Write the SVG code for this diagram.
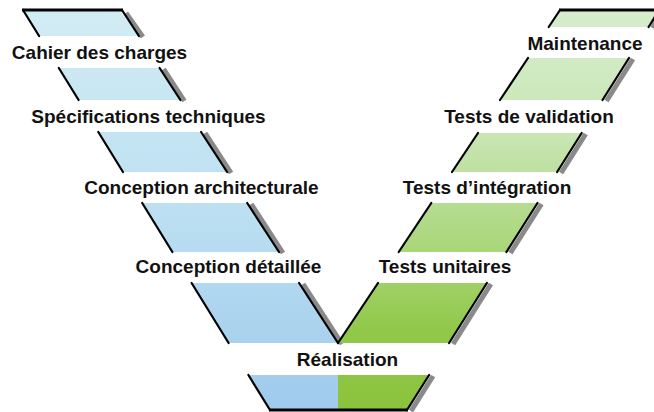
<svg xmlns="http://www.w3.org/2000/svg" width="654" height="412" viewBox="0 0 654 412">
<defs>
<linearGradient id="gBlue" gradientUnits="userSpaceOnUse" x1="0" y1="10" x2="0" y2="410">
<stop offset="0" stop-color="#d2ecf3"/>
<stop offset="0.5" stop-color="#bce0f2"/>
<stop offset="1" stop-color="#9fcaec"/>
</linearGradient>
<linearGradient id="gGreen" gradientUnits="userSpaceOnUse" x1="0" y1="10" x2="0" y2="410">
<stop offset="0" stop-color="#d6edcd"/>
<stop offset="0.3" stop-color="#cae6b6"/>
<stop offset="0.6" stop-color="#a9d67a"/>
<stop offset="0.8" stop-color="#91c84a"/>
<stop offset="1" stop-color="#8bc33d"/>
</linearGradient>
</defs>
<style>
.blue{fill:url(#gBlue)}
.green{fill:url(#gGreen)}
.edge{stroke:#000;stroke-width:2.2;fill:none;stroke-linecap:round}
.cap{stroke:#000;stroke-width:3;fill:none}
.shadow{stroke:#8a8a8a;stroke-width:5;fill:none}
.lbl{font-family:"Liberation Sans",Arial,sans-serif;font-weight:bold;font-size:19px;fill:#111;text-anchor:middle}
</style>
<rect width="654" height="412" fill="#fff"/>

<g id="shadows">
<line class="shadow" x1="126" y1="13" x2="142.9" y2="37"/>
<line class="shadow" x1="163.6" y1="69" x2="184.4" y2="101"/>
<line class="shadow" x1="205.1" y1="133" x2="231.1" y2="173"/>
<line class="shadow" x1="251.2" y1="204" x2="283" y2="253"/>
<line class="shadow" x1="303.1" y1="284" x2="342" y2="344"/>
<line class="shadow" x1="663" y1="10" x2="652.6" y2="28"/>
<line class="shadow" x1="633" y1="59" x2="606.5" y2="101"/>
<line class="shadow" x1="585.7" y1="134" x2="561.1" y2="173"/>
<line class="shadow" x1="541.5" y1="204" x2="510.4" y2="253"/>
<line class="shadow" x1="490.9" y1="284" x2="453.1" y2="344"/>
<line class="shadow" x1="433.1" y1="376" x2="411" y2="411"/>
</g>

<g id="left-arm">
<polygon class="blue" points="23,10 122,10 138.9,36 39.1,36"/>
<polygon class="blue" points="58.8,68 159.6,68 180.4,100 78.6,100"/>
<polygon class="blue" points="98.3,132 201.1,132 227.1,172 123,172"/>
<polygon class="blue" points="142.2,203 247.2,203 279,252 172.4,252"/>
<polygon class="blue" points="191.6,283 299.1,283 338,343 228.6,343"/>
</g>
<g id="right-arm">
<polygon class="green" points="560,10 659.3,10 648.6,27 548.7,27"/>
<polygon class="green" points="528,58 629,58 602.5,100 500,100"/>
<polygon class="green" points="478,133 581.7,133 557.1,172 452,172"/>
<polygon class="green" points="431.3,203 537.5,203 506.4,252 398.7,252"/>
<polygon class="green" points="378,283 486.9,283 449.1,343 338,343"/>
</g>
<g id="base">
<polygon class="blue" points="248.4,375 338.5,375 338.5,410 270,410"/>
<polygon class="green" points="338,375 429.1,375 407,410 338,410"/>
</g>

<g id="edges">
<line class="cap" x1="22" y1="10" x2="123" y2="10"/>
<line class="cap" x1="559" y1="10" x2="660" y2="10"/>
<line class="cap" x1="269" y1="410" x2="408" y2="410"/>
<line class="edge" x1="23" y1="10" x2="39.1" y2="36"/>
<line class="edge" x1="122" y1="10" x2="138.9" y2="36"/>
<line class="edge" x1="58.8" y1="68" x2="78.6" y2="100"/>
<line class="edge" x1="159.6" y1="68" x2="180.4" y2="100"/>
<line class="edge" x1="98.3" y1="132" x2="123" y2="172"/>
<line class="edge" x1="201.1" y1="132" x2="227.1" y2="172"/>
<line class="edge" x1="142.2" y1="203" x2="172.4" y2="252"/>
<line class="edge" x1="247.2" y1="203" x2="279" y2="252"/>
<line class="edge" x1="191.6" y1="283" x2="228.6" y2="343"/>
<line class="edge" x1="299.1" y1="283" x2="338" y2="343"/>
<line class="edge" x1="560" y1="10" x2="548.7" y2="27"/>
<line class="edge" x1="659.3" y1="10" x2="648.6" y2="27"/>
<line class="edge" x1="528" y1="58" x2="500" y2="100"/>
<line class="edge" x1="629" y1="58" x2="602.5" y2="100"/>
<line class="edge" x1="478" y1="133" x2="452" y2="172"/>
<line class="edge" x1="581.7" y1="133" x2="557.1" y2="172"/>
<line class="edge" x1="431.3" y1="203" x2="398.7" y2="252"/>
<line class="edge" x1="537.5" y1="203" x2="506.4" y2="252"/>
<line class="edge" x1="378" y1="283" x2="338" y2="343"/>
<line class="edge" x1="486.9" y1="283" x2="449.1" y2="343"/>
<line class="edge" x1="248.4" y1="375" x2="270" y2="410"/>
<line class="edge" x1="429.1" y1="375" x2="407" y2="410"/>
</g>

<g id="cahier"><text class="lbl" x="99.5" y="59">Cahier des charges</text></g>
<g id="specifications"><text class="lbl" x="148.5" y="123">Spécifications techniques</text></g>
<g id="architecture"><text class="lbl" x="201.5" y="194">Conception architecturale</text></g>
<g id="detaillee"><text class="lbl" x="228.5" y="273">Conception détaillée</text></g>
<g id="realisation"><text class="lbl" x="347.5" y="366">Réalisation</text></g>
<g id="unitaires"><text class="lbl" x="445" y="273">Tests unitaires</text></g>
<g id="integration"><text class="lbl" x="487" y="194">Tests d’intégration</text></g>
<g id="validation"><text class="lbl" x="529" y="123">Tests de validation</text></g>
<g id="maintenance"><text class="lbl" x="585" y="50">Maintenance</text></g>
</svg>
